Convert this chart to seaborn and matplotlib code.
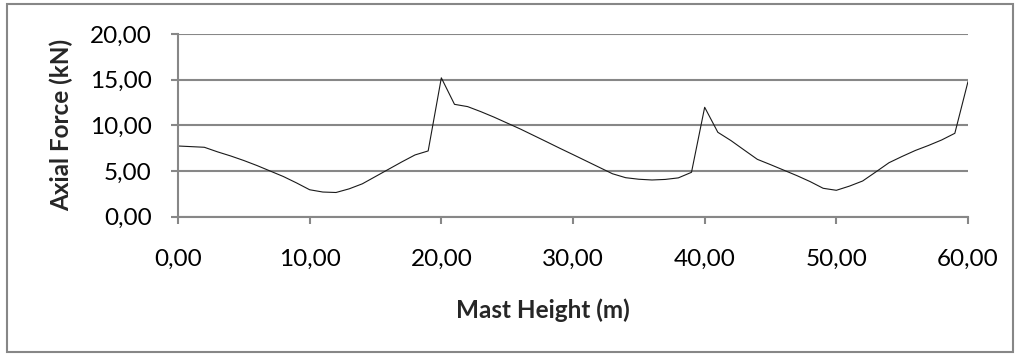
import matplotlib
matplotlib.use("Agg")
import matplotlib.pyplot as plt
from matplotlib.patches import Rectangle
from matplotlib.ticker import FuncFormatter
import seaborn as sns
import pandas as pd

# Mast height (m) and axial force (kN) at each metre
height_m = list(range(0, 61))
axial_kn = [
    7.74, 7.67, 7.60, 7.10, 6.65, 6.15, 5.60, 5.00, 4.40, 3.70,
    2.95, 2.70, 2.65, 3.05, 3.60, 4.40, 5.20, 6.00, 6.76, 7.20,
    15.20, 12.30, 12.05, 11.50, 10.90, 10.25, 9.60, 8.90, 8.20, 7.49,
    6.80, 6.10, 5.40, 4.70, 4.27, 4.10, 4.02, 4.08, 4.25, 4.86,
    11.98, 9.24, 8.33, 7.30, 6.28, 5.70, 5.10, 4.50, 3.85, 3.11,
    2.89, 3.35, 3.91, 4.90, 5.91, 6.60, 7.25, 7.80, 8.40, 9.13,
    14.79,
]
x_ticks = [0, 10, 20, 30, 40, 50, 60]
y_ticks = [0, 5, 10, 15, 20]

df = pd.DataFrame({"Mast Height (m)": height_m, "Axial Force (kN)": axial_kn})

sns.set_theme(style="white")
plt.rcParams["font.family"] = ["Lato", "DejaVu Sans"]

GRAY = "#878787"

fig = plt.figure(figsize=(10.22, 3.6), dpi=100)
ax = fig.add_axes([178 / 1022, 1 - 216.7 / 360, 790 / 1022, 182.7 / 360])

sns.lineplot(data=df, x="Mast Height (m)", y="Axial Force (kN)", ax=ax,
             color="#1a1a1a", linewidth=0.8)

ax.set_xlim(0, 60)
ax.set_ylim(0, 20)
ax.set_xticks(x_ticks)
ax.set_yticks(y_ticks)
fmt = FuncFormatter(lambda v, p: f"{v:.2f}".replace(".", ","))
ax.xaxis.set_major_formatter(fmt)
ax.yaxis.set_major_formatter(fmt)

ax.grid(axis="y", color=GRAY, linewidth=1.5)
ax.grid(axis="x", visible=False)
ax.set_axisbelow(True)
for side in ("top", "right"):
    ax.spines[side].set_visible(False)
for side in ("left", "bottom"):
    ax.spines[side].set_color(GRAY)
    ax.spines[side].set_linewidth(1.5)

ax.tick_params(axis="both", which="major", direction="out", length=5,
               width=1.5, color=GRAY, labelsize=17.5, labelcolor="black")
ax.tick_params(axis="x", pad=18)
ax.tick_params(axis="y", pad=14)
ax.tick_params(bottom=True, left=True)

ax.set_xlabel("Mast Height (m)", fontsize=17.5, fontweight="bold")
ax.set_ylabel("Axial Force (kN)", fontsize=17.5, fontweight="bold", labelpad=12)
ax.xaxis.set_label_coords(0.462, -0.445)

# chart frame
fig.patches.append(Rectangle((7 / 1022, 8 / 360), 1006 / 1022, 348 / 360,
                             transform=fig.transFigure, fill=False,
                             edgecolor=GRAY, linewidth=1.5))

fig.savefig("out.png", dpi=100)
